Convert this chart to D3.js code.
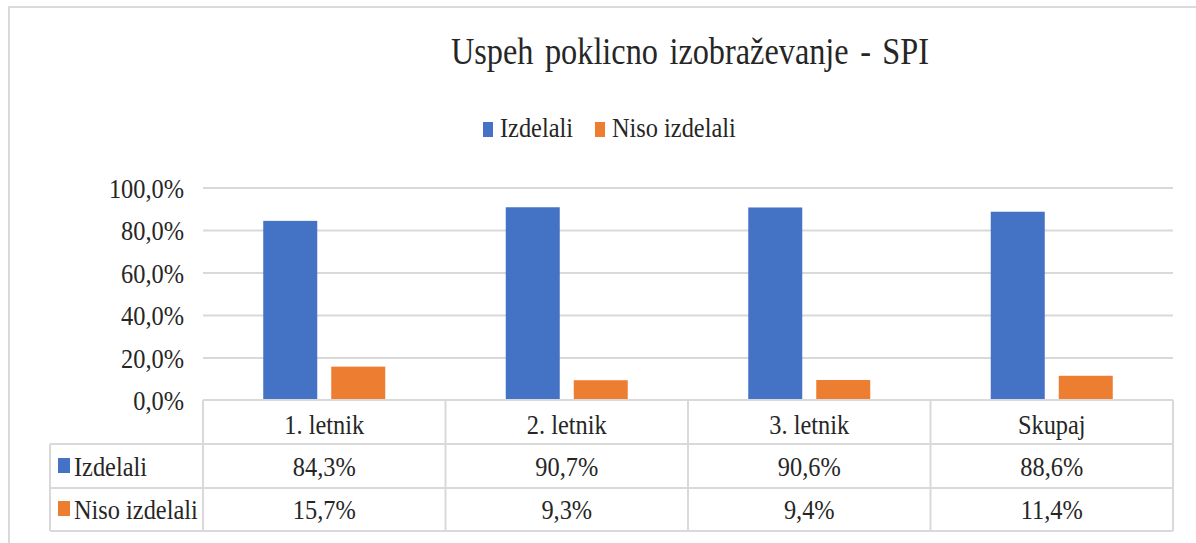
<!DOCTYPE html>
<html>
<head>
<meta charset="utf-8">
<script src="https://cdn.jsdelivr.net/npm/d3@7"></script>
<style>
  body { margin: 0; background: #fff; }
</style>
</head>
<body>
<svg id="chart" width="1196" height="543" font-family="Liberation Serif"></svg>
<script>
// data
const categories = ['1. letnik', '2. letnik', '3. letnik', 'Skupaj'];
const seriesNames = ['Izdelali', 'Niso izdelali'];
const izdelali = [0.843, 0.907, 0.906, 0.886];
const nisoIzdelali = [0.157, 0.093, 0.094, 0.114];
const yTicks = [0, 0.2, 0.4, 0.6, 0.8, 1.0];
const colors = ['#4472C4', '#ED7D31'];

const series = [izdelali, nisoIzdelali];

const locale = d3.formatLocale({ decimal: ',', thousands: '.', grouping: [3], currency: ['', '€'] });
const pct = locale.format('.1%');

const FONT = 'Liberation Serif';
const textColor = '#262626';
const gridColor = '#d9d9d9';
const SQUASH = 0.87; // reference text is a bit narrow

const svg = d3.select('#chart');

// frame
svg.append('path')
    .attr('d', 'M9,543 V7 H1196')
    .attr('fill', 'none')
    .attr('stroke', '#dadada')
    .attr('stroke-width', 2);

const plot = { left: 203, right: 1173, top: 187.5, bottom: 400 };

const xScale = d3.scaleBand()
    .domain(categories)
    .range([plot.left, plot.right])
    .padding(0);

const yScale = d3.scaleLinear()
    .domain([0, 1])
    .range([plot.bottom, plot.top]);

// font + horizontal squeeze, keeps the anchor point where x/y were
function label(sel, size, sx = SQUASH) {
    sel.attr('font-family', FONT)
        .attr('font-size', size)
        .attr('fill', textColor)
        .each(function () {
            const t = d3.select(this);
            const x = +t.attr('x') || 0, y = +t.attr('y') || 0;
            t.attr('x', 0).attr('y', 0)
             .attr('transform', `translate(${x},${y}) scale(${sx},1)`);
        });
    return sel;
}

// title
svg.append('text')
    .attr('x', 690)
    .attr('y', 64)
    .attr('text-anchor', 'middle')
    .attr('word-spacing', 4)
    .text('Uspeh poklicno izobraževanje - SPI')
    .call(label, 38, 0.85);

// legend on top
const legendX = [483, 595];
const legend = svg.append('g');
seriesNames.forEach((name, i) => {
    legend.append('rect')
        .attr('x', legendX[i]).attr('y', 122)
        .attr('width', 10).attr('height', 15)
        .attr('fill', colors[i]);
    legend.append('text')
        .attr('x', legendX[i] + 17).attr('y', 137)
        .text(name)
        .call(label, 28);
});

// gridlines
svg.append('g')
    .attr('transform', `translate(${plot.left},0)`)
    .call(d3.axisLeft(yScale).tickValues(yTicks.slice(1)).tickSize(-(plot.right - plot.left)).tickFormat(''))
    .call(g => g.select('.domain').remove())
    .selectAll('line')
    .attr('stroke', gridColor)
    .attr('stroke-width', 2);

// y labels
svg.append('g')
    .attr('transform', `translate(${plot.left},0)`)
    .call(d3.axisLeft(yScale).tickValues(yTicks).tickSize(0).tickPadding(19).tickFormat(pct))
    .call(g => g.select('.domain').remove())
    .selectAll('text')
    .attr('dy', '0.35em')
    .call(label, 28);

// bars
const barW = 54;
const offsets = [-34, 34];
series.forEach((vals, si) => {
    svg.append('g').selectAll('rect')
        .data(vals)
        .join('rect')
        .attr('x', (d, i) => xScale(categories[i]) + xScale.bandwidth() / 2 + offsets[si] - barW / 2)
        .attr('y', d => yScale(d))
        .attr('width', barW)
        .attr('height', d => yScale(0) - yScale(d))
        .attr('fill', colors[si]);
});

// data table
const rowTop = [400, 444, 488, 531];
const tableLeft = 50;
const table = svg.append('g');

// horizontal lines
table.append('line')
    .attr('x1', plot.left).attr('x2', plot.right)
    .attr('y1', rowTop[0]).attr('y2', rowTop[0]);
rowTop.slice(1).forEach(y => {
    table.append('line')
        .attr('x1', tableLeft).attr('x2', plot.right)
        .attr('y1', y).attr('y2', y);
});
// vertical lines
table.append('line')
    .attr('x1', tableLeft).attr('x2', tableLeft)
    .attr('y1', rowTop[1]).attr('y2', rowTop[3]);
categories.forEach(c => {
    table.append('line')
        .attr('x1', xScale(c)).attr('x2', xScale(c))
        .attr('y1', rowTop[0]).attr('y2', rowTop[3]);
});
table.append('line')
    .attr('x1', plot.right).attr('x2', plot.right)
    .attr('y1', rowTop[0]).attr('y2', rowTop[3]);
table.selectAll('line')
    .attr('stroke', gridColor)
    .attr('stroke-width', 2);

// header labels
table.selectAll('text.cat')
    .data(categories)
    .join('text')
    .attr('class', 'cat')
    .attr('x', d => xScale(d) + xScale.bandwidth() / 2)
    .attr('y', 434)
    .attr('text-anchor', 'middle')
    .text(d => d)
    .call(label, 28);

const rowBase = [476, 519];
series.forEach((vals, si) => {
    table.append('rect')
        .attr('x', 58).attr('y', rowBase[si] - 18)
        .attr('width', 12).attr('height', 15)
        .attr('fill', colors[si]);
    table.append('text')
        .attr('x', 74).attr('y', rowBase[si])
        .text(seriesNames[si])
        .call(label, 28);
    table.append('g').selectAll('text')
        .data(vals)
        .join('text')
        .attr('x', (d, i) => xScale(categories[i]) + xScale.bandwidth() / 2)
        .attr('y', rowBase[si])
        .attr('text-anchor', 'middle')
        .text(d => pct(d))
        .call(label, 28);
});
</script>
</body>
</html>
